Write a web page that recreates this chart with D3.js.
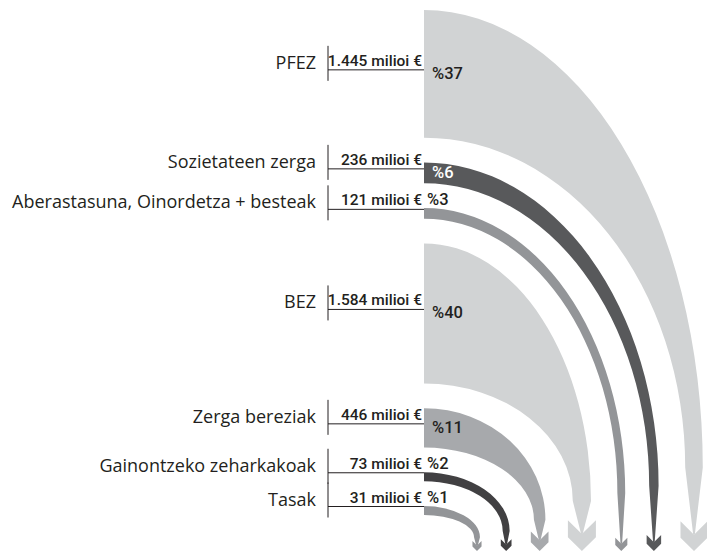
<!DOCTYPE html>
<html>
<head>
<meta charset="utf-8">
<script src="https://cdn.jsdelivr.net/npm/d3@7"></script>
<style>
  body { margin: 0; background: #fff; }
  svg { display: block; }
</style>
</head>
<body>
<div id="chart"></div>
<script>
// data
const categories = ['PFEZ', 'Sozietateen zerga', 'Aberastasuna, Oinordetza + besteak', 'BEZ', 'Zerga bereziak', 'Gainontzeko zeharkakoak', 'Tasak'];
const values = [1445, 236, 121, 1584, 446, 73, 31];
const valueLabels = ['1.445 milioi €', '236 milioi €', '121 milioi €', '1.584 milioi €', '446 milioi €', '73 milioi €', '31 milioi €'];
const shares = [37, 6, 3, 40, 11, 2, 1];

// settings
const width = 707;
const height = 552;
const x0 = 424;        // left edge of the ribbons
const tickX = 328;     // small vertical tick before each value
const labelX = 316;
const topY = 10;
const bottomY = 515;   // lower edge of the last ribbon
const arrowBase = 551;
const arrowRange = [477, 694];
const minBand = 9;
const textColor = '#231f20';

const color = d3.scaleOrdinal()
  .domain(categories)
  .range(['#d1d3d4', '#58595b', '#939598', '#d1d3d4', '#a7a9ac', '#414042', '#939598']);

const thick = d3.scaleLinear().domain([0, d3.max(values)]).range([0, 140]);
const arrowW = d3.scaleSqrt().domain([0, d3.max(values)]).range([6, 28]);

const rows = categories.map((name, i) => ({
  name, value: values[i], label: valueLabels[i], share: shares[i],
  t: Math.max(minBand, thick(values[i])),
  w: arrowW(values[i])
}));

// stack ribbons vertically with an even gap
const gap = (bottomY - topY - d3.sum(rows, d => d.t)) / (rows.length - 1);
let y = topY;
rows.forEach(d => { d.y0 = y; d.y1 = y + d.t; y = d.y1 + gap; });

// arrows run the other way: last row is the leftmost arrow
const order = rows.slice().reverse();
let off = 0;
order.forEach((d, i) => {
  if (i > 0) off += (order[i - 1].w + d.w) / 2 + 19;
  d.off = off;
});
const ax = d3.scaleLinear().domain([0, off]).range(arrowRange);

rows.forEach(d => {
  d.cx = ax(d.off);
  d.h = d.w * 1.1;
  d.aTop = arrowBase - d.h;
  d.notch = d.aTop + 0.45 * d.h;
  d.wEnd = d.w * 0.65;
  d.yV = d.y1 + 0.86 * (d.aTop - d.y1);
  d.line = (d.y0 + d.y1) / 2 - 4;
});

function ribbon (d) {
  const xo = d.cx + d.wEnd / 2;
  const xi = d.cx - d.wEnd / 2;
  return `M${x0},${d.y0}` +
    `A${xo - x0},${d.yV - d.y0} 0 0 1 ${xo},${d.yV}` +
    `L${d.cx + 0.8},${d.notch}L${d.cx - 0.8},${d.notch}` +
    `L${xi},${d.yV}` +
    `A${xi - x0},${d.yV - d.y1} 0 0 0 ${x0},${d.y1}Z`;
}

function arrowHead (d) {
  const l = d.cx - d.w / 2;
  const r = d.cx + d.w / 2;
  return d3.line()([
    [l, d.aTop], [d.cx, d.notch], [r, d.aTop],
    [r, d.aTop + 0.55 * d.h], [d.cx, arrowBase], [l, d.aTop + 0.55 * d.h]
  ]) + 'Z';
}

const svg = d3.select('#chart')
  .append('svg')
  .attr('width', width)
  .attr('height', height);

const g = svg.selectAll('g.flow')
  .data(rows)
  .join('g')
  .attr('class', 'flow')
  .attr('fill', d => color(d.name));

g.append('path').attr('d', ribbon);
g.append('path').attr('d', arrowHead);

// label rows
const lab = svg.selectAll('g.lab')
  .data(rows)
  .join('g')
  .attr('class', 'lab');

lab.append('line')
  .attr('x1', tickX).attr('x2', tickX)
  .attr('y1', d => d.line - 24).attr('y2', d => d.line + 11)
  .attr('stroke', textColor).attr('stroke-width', 1);

lab.append('line')
  .attr('x1', tickX).attr('x2', x0)
  .attr('y1', d => d.line).attr('y2', d => d.line)
  .attr('stroke', textColor).attr('stroke-width', 1);

lab.append('text')
  .attr('x', labelX)
  .attr('y', d => d.line - 1)
  .attr('text-anchor', 'end')
  .attr('font-family', '"Open Sans", sans-serif')
  .attr('font-size', 18)
  .attr('fill', textColor)
  .text(d => d.name);

lab.append('text')
  .attr('x', x0 - 2)
  .attr('y', d => d.line - 4)
  .attr('text-anchor', 'end')
  .attr('font-family', 'Roboto, sans-serif')
  .attr('font-weight', 500)
  .attr('font-size', 15.5)
  .attr('fill', textColor)
  .text(d => d.label);

lab.append('text')
  .attr('x', d => d.t > 20 ? x0 + 8 : x0 + 3)
  .attr('y', d => d.t > 20 ? d.line + 9 : d.line - 4)
  .attr('font-family', 'Roboto, sans-serif')
  .attr('font-weight', 500)
  .attr('font-size', 16.5)
  .attr('fill', d => d.t > 20 && d3.hsl(color(d.name)).l < 0.5 ? '#fff' : textColor)
  .text(d => '%' + d.share);
</script>
</body>
</html>
